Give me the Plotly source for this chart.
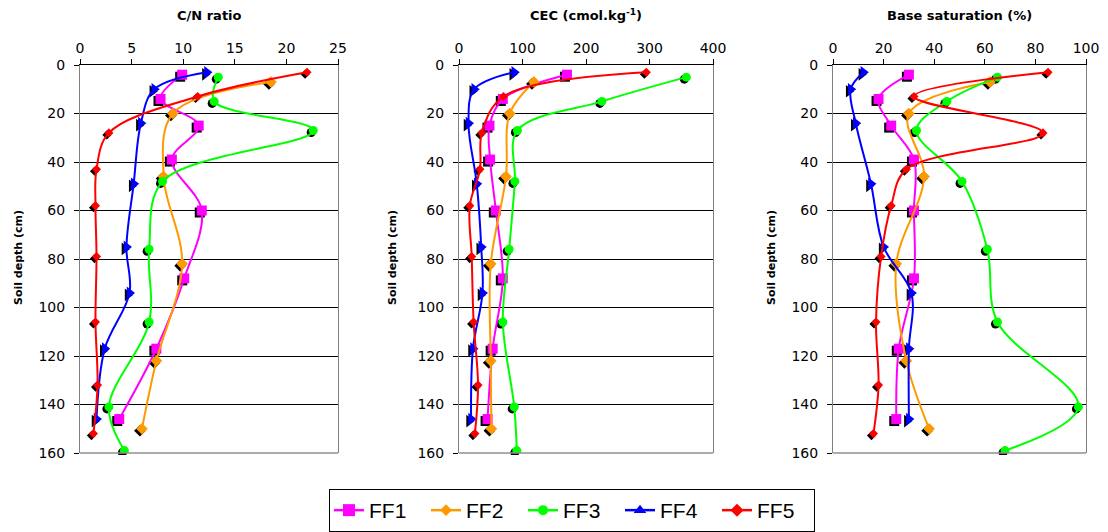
import plotly.graph_objects as go

W, H = 1108, 532

series = ["FF1", "FF2", "FF3", "FF4", "FF5"]

# C/N ratio
cn_x = {
    "FF1": [9.9, 7.8, 11.5, 8.9, 11.8, 10.1, 7.4, 3.8],
    "FF2": [18.5, 9.0, 8.1, 9.9, 7.4, 6.0],
    "FF3": [13.4, 13.0, 22.6, 8.0, 6.7, 6.7, 2.8, 4.3],
    "FF4": [12.3, 7.2, 5.9, 5.2, 4.5, 4.8, 2.4, 1.6],
    "FF5": [22.0, 11.4, 2.8, 1.6, 1.5, 1.6, 1.5, 1.7, 1.3],
}
# CEC
cec_x = {
    "FF1": [170, 69, 48, 49, 58, 69, 53, 45],
    "FF2": [118, 80, 74, 50, 50, 51],
    "FF3": [358, 225, 92, 88, 79, 69, 87, 91],
    "FF4": [87, 24, 15, 28, 35, 37, 22, 19],
    "FF5": [295, 70, 36, 33, 17, 20, 23, 30, 25],
}
# Base saturation
bs_x = {
    "FF1": [30, 18, 23, 32, 32, 32, 26, 25],
    "FF2": [62, 30, 36, 25, 29, 38],
    "FF3": [65, 45, 33, 51, 61, 65, 97, 68],
    "FF4": [12, 7, 9, 15, 20, 31, 30, 30],
    "FF5": [85, 32, 83, 29, 23, 19, 17, 18, 16],
}
# Soil depth (cm) of each sample, per series
depth = {
    "FF1": [4, 14, 25, 39, 60, 88, 117, 146],
    "FF2": [7, 20, 46, 82, 122, 150],
    "FF3": [5, 15, 27, 48, 76, 106, 141, 159],
    "FF4": [3, 10, 24, 49, 75, 94, 117, 146],
    "FF5": [3, 13, 28, 43, 58, 79, 106, 132, 152],
}

panel_titles = ["C/N ratio", "CEC (cmol.kg<sup>-1</sup>)", "Base saturation (%)"]
x_ranges = [[0, 25], [0, 400], [0, 100]]
x_dticks = [5, 100, 20]
y_ticks = [0, 20, 40, 60, 80, 100, 120, 140, 160]
y_title = "Soil depth (cm)"

colors = {"FF1": "#FF00FF", "FF2": "#FF9900", "FF3": "#00FF00", "FF4": "#0000FF", "FF5": "#FF0000"}
symbols = {"FF1": "square", "FF2": "diamond", "FF3": "circle", "FF4": "triangle-right", "FF5": "diamond"}
sizes = {"FF1": 10, "FF2": 9, "FF3": 9, "FF4": 11, "FF5": 7}
leg_symbols = {"FF1": "square", "FF2": "diamond", "FF3": "circle", "FF4": "triangle-up", "FF5": "diamond"}
leg_sizes = {"FF1": 12, "FF2": 9, "FF3": 10, "FF4": 11, "FF5": 10}

# pixel geometry of the plot areas
px_x = [(80, 338), (459, 713), (833, 1086)]
px_y = (65, 453)
shadow_dx, shadow_dy = -2, 2

def xdom(a, b, d=0):
    return [(a + d) / W, (b + d) / W]

def ydom(d=0):
    return [1 - (px_y[1] + d) / H, 1 - (px_y[0] + d) / H]

fig = go.Figure()
data_sets = [cn_x, cec_x, bs_x]
font = "DejaVu Sans, Arial, sans-serif"

layout = dict(
    width=W, height=H,
    margin=dict(l=0, r=0, t=0, b=0, autoexpand=False),
    paper_bgcolor="white", plot_bgcolor="rgba(0,0,0,0)",
    font=dict(family=font, size=14, color="black"),
    showlegend=True,
    legend=dict(
        orientation="h", x=572 / W, y=1 - 510.5 / H, xanchor="center", yanchor="middle",
        bordercolor="black", borderwidth=1, bgcolor="white",
        font=dict(size=21, family="Arial, Liberation Sans, sans-serif"),
        entrywidth=52, entrywidthmode="pixels", tracegroupgap=0,
    ),
)

annotations = []
shapes = []
for p in range(3):
    ds = data_sets[p]
    sid = p + 1          # shadow axes
    mid = p + 4          # main axes
    a, b = px_x[p]
    layout[f"xaxis{sid}"] = dict(domain=xdom(a, b, shadow_dx), range=x_ranges[p], visible=False,
                                  anchor=f"y{sid}", fixedrange=True)
    layout[f"yaxis{sid}"] = dict(domain=ydom(shadow_dy), range=[160, 0], visible=False,
                                  anchor=f"x{sid}", fixedrange=True)
    layout[f"xaxis{mid}"] = dict(
        domain=xdom(a, b), range=x_ranges[p], side="top", anchor=f"y{mid}",
        dtick=x_dticks[p], tick0=0, showgrid=False, zeroline=False,
        showline=True, linecolor="black", linewidth=1,
        ticks="outside", ticklen=5, tickcolor="black",
        tickfont=dict(size=14, family=font),
    )
    layout[f"yaxis{mid}"] = dict(
        domain=ydom(), range=[160, 0], anchor=f"x{mid}",
        tickvals=y_ticks, showgrid=True, gridcolor="black", gridwidth=1, zeroline=False,
        showline=True, linecolor="#808080", linewidth=1, mirror=True,
        ticks="outside", ticklen=5, tickcolor="black",
        tickfont=dict(size=14, family=font), ticklabelstandoff=6,
    )
    shapes.append(dict(type="line", xref=f"x{mid} domain", yref=f"y{mid} domain",
                       x0=0, x1=1, y0=0, y1=0, line=dict(color="#909090", width=1.5)))
    annotations.append(dict(text=f"<b>{panel_titles[p]}</b>", xref=f"x{mid} domain", x=0.5,
                            yref="paper", y=1 - 15 / H, showarrow=False,
                            font=dict(size=13, family=font), xanchor="center", yanchor="middle"))
    ytx = [18, 392, 771][p]
    annotations.append(dict(text=f"<b>{y_title}</b>", xref="paper", x=ytx / W, yref="paper",
                            y=1 - 258 / H, textangle=-90, showarrow=False,
                            font=dict(size=11, family=font), xanchor="center", yanchor="middle"))

    for s in series:
        fig.add_trace(go.Scatter(
            x=ds[s], y=depth[s], mode="markers", xaxis=f"x{sid}", yaxis=f"y{sid}",
            marker=dict(symbol=symbols[s], size=sizes[s], color="black"),
            showlegend=False, hoverinfo="skip",
        ))
for p in range(3):
    ds = data_sets[p]
    mid = p + 4
    for s in series:
        fig.add_trace(go.Scatter(
            x=ds[s], y=depth[s], mode="lines+markers", name=s,
            xaxis=f"x{mid}", yaxis=f"y{mid}",
            line=dict(color=colors[s], width=2, shape="spline", smoothing=1),
            marker=dict(symbol=symbols[s], size=sizes[s], color=colors[s]),
            showlegend=False, legendgroup=s,
        ))
# legend-only entries (no data drawn)
for s in series:
    fig.add_trace(go.Scatter(
        x=[None], y=[None], mode="lines+markers", name=s, xaxis="x4", yaxis="y4",
        line=dict(color=colors[s], width=2.5),
        marker=dict(symbol=leg_symbols[s], size=leg_sizes[s], color=colors[s]),
        showlegend=True, legendgroup=s,
    ))

layout["annotations"] = annotations
layout["shapes"] = shapes
fig.update_layout(**layout)
fig.write_html("out.html")
